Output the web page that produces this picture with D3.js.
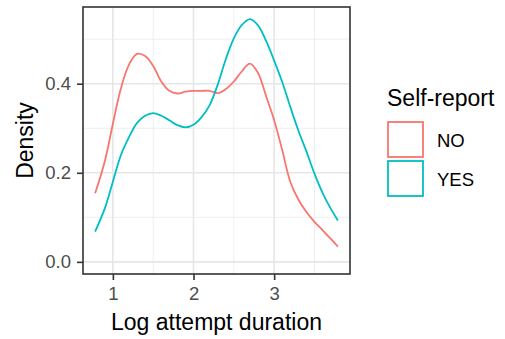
<!DOCTYPE html>
<html>
<head>
<meta charset="utf-8">
<script src="https://cdn.jsdelivr.net/npm/d3@7"></script>
<style>
  body { margin: 0; background: #fff; }
  svg { display: block; font-family: "Liberation Sans", Arial, sans-serif; }
</style>
</head>
<body>
<div id="chart"></div>
<script>
// log attempt duration grid (shared by both curves)
const durations = [0.78, 0.9, 1.0, 1.1, 1.2, 1.3, 1.4, 1.5, 1.6, 1.7, 1.8, 1.9, 2.0, 2.1, 2.2, 2.3,
  2.4, 2.5, 2.6, 2.7, 2.8, 2.9, 3.0, 3.1, 3.2, 3.3, 3.4, 3.5, 3.6, 3.7, 3.79];

// density estimates
const densityNo = [0.154, 0.226, 0.310, 0.390, 0.443, 0.467, 0.462, 0.440, 0.405, 0.384, 0.378, 0.382,
  0.384, 0.384, 0.384, 0.379, 0.388, 0.405, 0.428, 0.445, 0.424, 0.372, 0.318, 0.251, 0.180, 0.140,
  0.112, 0.090, 0.071, 0.052, 0.034];
const densityYes = [0.068, 0.120, 0.180, 0.240, 0.280, 0.312, 0.328, 0.334, 0.328, 0.318, 0.307, 0.302,
  0.308, 0.325, 0.352, 0.398, 0.455, 0.502, 0.532, 0.545, 0.531, 0.496, 0.452, 0.404, 0.348, 0.295,
  0.248, 0.198, 0.155, 0.120, 0.093];

const groups = ['NO', 'YES'];
const groupColors = ['#F8766D', '#00BFC4'];
const xTicks = [1, 2, 3];
const xMinor = [1.5, 2.5, 3.5];
const yTicks = [0.0, 0.2, 0.4];
const yMinor = [0.1, 0.3, 0.5];

const width = 505, height = 339;
const panel = { left: 83, right: 350, top: 7, bottom: 274 };

const svg = d3.select('#chart').append('svg')
  .attr('width', width)
  .attr('height', height);

// ggplot-style 5% expansion
const xExt = d3.extent(durations);
const xPad = (xExt[1] - xExt[0]) * 0.05;
const yMax = d3.max(densityNo.concat(densityYes));
const yPad = yMax * 0.05;

const x = d3.scaleLinear().domain([xExt[0] - xPad, xExt[1] + xPad]).range([panel.left, panel.right]);
const y = d3.scaleLinear().domain([-yPad, yMax + yPad]).range([panel.bottom, panel.top]);

// grid
const grid = svg.append('g');
grid.selectAll('.vminor').data(xMinor).enter().append('line')
  .attr('x1', d => x(d)).attr('x2', d => x(d))
  .attr('y1', panel.top).attr('y2', panel.bottom)
  .attr('stroke', '#EBEBEB').attr('stroke-width', 0.8);
grid.selectAll('.hminor').data(yMinor).enter().append('line')
  .attr('y1', d => y(d)).attr('y2', d => y(d))
  .attr('x1', panel.left).attr('x2', panel.right)
  .attr('stroke', '#EBEBEB').attr('stroke-width', 0.8);
grid.selectAll('.vmajor').data(xTicks).enter().append('line')
  .attr('x1', d => x(d)).attr('x2', d => x(d))
  .attr('y1', panel.top).attr('y2', panel.bottom)
  .attr('stroke', '#E6E6E6').attr('stroke-width', 1.6);
grid.selectAll('.hmajor').data(yTicks).enter().append('line')
  .attr('y1', d => y(d)).attr('y2', d => y(d))
  .attr('x1', panel.left).attr('x2', panel.right)
  .attr('stroke', '#E6E6E6').attr('stroke-width', 1.6);

// density lines
const series = [densityNo, densityYes];
const line = d3.line()
  .x((d, i) => x(durations[i]))
  .y(d => y(d))
  .curve(d3.curveCatmullRom.alpha(0.5));

svg.selectAll('.density').data(series).enter().append('path')
  .attr('d', d => line(d))
  .attr('fill', 'none')
  .attr('stroke', (d, i) => groupColors[i])
  .attr('stroke-width', 1.8);

// panel border
svg.append('rect')
  .attr('x', panel.left).attr('y', panel.top)
  .attr('width', panel.right - panel.left).attr('height', panel.bottom - panel.top)
  .attr('fill', 'none').attr('stroke', '#333').attr('stroke-width', 1.6);

// axes
const xAxis = svg.append('g')
  .attr('transform', `translate(0,${panel.bottom})`)
  .call(d3.axisBottom(x).tickValues(xTicks).tickFormat(d3.format('d')).tickSize(6).tickPadding(7));
const yAxis = svg.append('g')
  .attr('transform', `translate(${panel.left},0)`)
  .call(d3.axisLeft(y).tickValues(yTicks).tickFormat(d3.format('.1f')).tickSize(6).tickPadding(6));

[xAxis, yAxis].forEach(a => {
  a.select('.domain').remove();
  a.selectAll('.tick line').attr('stroke', '#333').attr('stroke-width', 1.6);
  a.selectAll('.tick text')
    .attr('fill', '#4D4D4D')
    .style('font-size', '18.5px')
    .style('font-family', '"Liberation Sans", Arial, sans-serif');
});

// axis titles
svg.append('text')
  .attr('x', (panel.left + panel.right) / 2)
  .attr('y', 330)
  .attr('text-anchor', 'middle')
  .style('font-size', '23px')
  .text('Log attempt duration');

svg.append('text')
  .attr('transform', `translate(33,${(panel.top + panel.bottom) / 2}) rotate(-90)`)
  .attr('text-anchor', 'middle')
  .style('font-size', '23px')
  .text('Density');

// legend
const legend = svg.append('g');
legend.append('text')
  .attr('x', 387).attr('y', 106)
  .style('font-size', '23px')
  .text('Self-report');

const keys = legend.selectAll('.key').data(groups).enter().append('g')
  .attr('transform', (d, i) => `translate(388,${122 + i * 39})`);
keys.append('rect')
  .attr('width', 35).attr('height', 35)
  .attr('fill', '#fff')
  .attr('stroke', (d, i) => groupColors[i])
  .attr('stroke-width', 1.8);
keys.append('text')
  .attr('x', 49).attr('y', 25)
  .style('font-size', '18.5px')
  .text(d => d);
</script>
</body>
</html>
